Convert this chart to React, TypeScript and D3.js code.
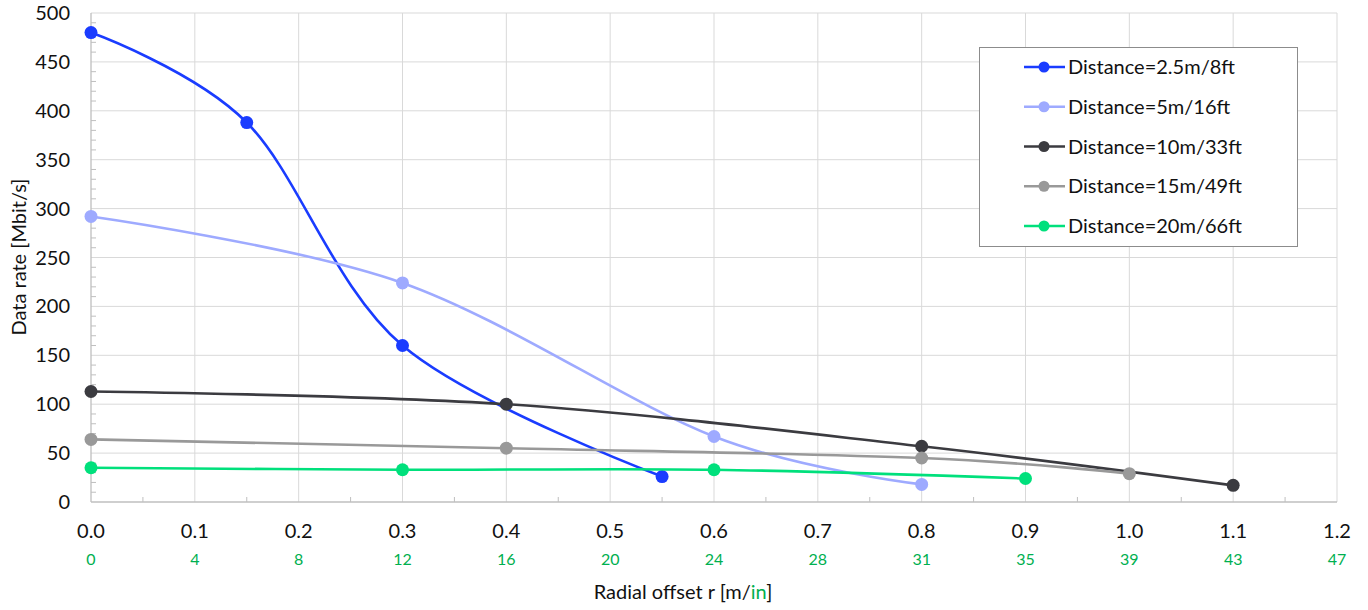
import React from 'react';
import * as d3 from 'd3';

// radial offset in metres, data rate in Mbit/s
const blueX = [0, 0.15, 0.3, 0.55];
const blueY = [480, 388, 160, 26];
const lightX = [0, 0.3, 0.6, 0.8];
const lightY = [292, 224, 67, 18];
const darkX = [0, 0.4, 0.8, 1.1];
const darkY = [113, 100, 57, 17];
const grayX = [0, 0.4, 0.8, 1.0];
const grayY = [64, 55, 45, 29];
const greenX = [0, 0.3, 0.6, 0.9];
const greenY = [35, 33, 33, 24];

const seriesNames = [
  'Distance=2.5m/8ft',
  'Distance=5m/16ft',
  'Distance=10m/33ft',
  'Distance=15m/49ft',
  'Distance=20m/66ft',
];
const seriesColors = ['#1a3cff', '#9eaaff', '#3b3b40', '#999999', '#00e07c'];

const xTicks = [0, 0.1, 0.2, 0.3, 0.4, 0.5, 0.6, 0.7, 0.8, 0.9, 1.0, 1.1, 1.2];
const inchLabels = ['0', '4', '8', '12', '16', '20', '24', '28', '31', '35', '39', '43', '47'];
const yTicks = [0, 50, 100, 150, 200, 250, 300, 350, 400, 450, 500];

const font = 'Lato, "Open Sans", sans-serif';

const App = () => {
  const ref = React.useRef<SVGSVGElement>(null);

  React.useEffect(() => {
    const width = 1368,
      height = 610;
    const left = 91,
      right = 1337,
      top = 13,
      bottom = 502;

    const svg = d3.select(ref.current);
    svg.selectAll('*').remove();
    svg.attr('width', width).attr('height', height);

    const x = d3.scaleLinear().domain([0, 1.2]).range([left, right]);
    const y = d3.scaleLinear().domain([0, 500]).range([bottom, top]);

    // gridlines
    svg.append('g')
      .selectAll('line')
      .data(xTicks.slice(1))
      .join('line')
      .attr('x1', d => x(d)).attr('x2', d => x(d))
      .attr('y1', top).attr('y2', bottom)
      .attr('stroke', '#d9d9d9').attr('stroke-width', 1);
    svg.append('g')
      .selectAll('line')
      .data(yTicks.slice(1))
      .join('line')
      .attr('x1', left).attr('x2', right)
      .attr('y1', d => y(d)).attr('y2', d => y(d))
      .attr('stroke', '#d9d9d9').attr('stroke-width', 1);

    // minor ticks
    svg.append('g')
      .selectAll('line')
      .data(d3.range(0, 500, 10).filter(v => v % 50 !== 0))
      .join('line')
      .attr('x1', left).attr('x2', left + 5)
      .attr('y1', d => y(d)).attr('y2', d => y(d))
      .attr('stroke', '#bfbfbf');
    svg.append('g')
      .selectAll('line')
      .data(d3.range(0, 12).map(i => i * 0.1 + 0.05))
      .join('line')
      .attr('x1', d => x(d)).attr('x2', d => x(d))
      .attr('y1', bottom).attr('y2', bottom - 5)
      .attr('stroke', '#bfbfbf');

    // axis lines
    svg.append('line')
      .attr('x1', left).attr('x2', left).attr('y1', top).attr('y2', bottom)
      .attr('stroke', '#bfbfbf').attr('stroke-width', 1.3);
    svg.append('line')
      .attr('x1', left).attr('x2', right).attr('y1', bottom).attr('y2', bottom)
      .attr('stroke', '#bfbfbf').attr('stroke-width', 1.3);

    // y tick labels
    svg.append('g')
      .selectAll('text')
      .data(yTicks)
      .join('text')
      .attr('x', 70)
      .attr('y', d => y(d) + 7)
      .attr('text-anchor', 'end')
      .style('font-family', font)
      .style('font-size', '20px')
      .attr('fill', '#111')
      .text(d => d);

    // x tick labels
    svg.append('g')
      .selectAll('text')
      .data(xTicks)
      .join('text')
      .attr('x', d => x(d))
      .attr('y', 538)
      .attr('text-anchor', 'middle')
      .style('font-family', font)
      .style('font-size', '20px')
      .attr('fill', '#111')
      .text(d => d.toFixed(1));

    svg.append('g')
      .selectAll('text')
      .data(inchLabels)
      .join('text')
      .attr('x', (d, i) => x(xTicks[i]))
      .attr('y', 565)
      .attr('text-anchor', 'middle')
      .style('font-family', font)
      .style('font-size', '16px')
      .attr('fill', '#00b050')
      .text(d => d);

    // axis titles
    const xt = svg.append('text')
      .attr('x', 683)
      .attr('y', 599)
      .attr('text-anchor', 'middle')
      .style('font-family', font)
      .style('font-size', '20px')
      .attr('fill', '#111');
    xt.append('tspan').text('Radial offset r [m/');
    xt.append('tspan').attr('fill', '#00b050').text('in');
    xt.append('tspan').text(']');

    svg.append('text')
      .attr('transform', `translate(26,257) rotate(-90)`)
      .attr('text-anchor', 'middle')
      .style('font-family', font)
      .style('font-size', '20px')
      .attr('fill', '#111')
      .text('Data rate [Mbit/s]');

    // series
    const allSeries = [
      [blueX, blueY],
      [lightX, lightY],
      [darkX, darkY],
      [grayX, grayY],
      [greenX, greenY],
    ];
    const line = d3.line<[number, number]>()
      .x(d => x(d[0]))
      .y(d => y(d[1]))
      .curve(d3.curveCardinal.tension(0));

    allSeries.forEach(([xs, ys], i) => {
      const pts: [number, number][] = xs.map((v, j) => [v, ys[j]]);
      const g = svg.append('g');
      g.append('path')
        .attr('d', line(pts))
        .attr('fill', 'none')
        .attr('stroke', seriesColors[i])
        .attr('stroke-width', 2.6);
      g.selectAll('circle')
        .data(pts)
        .join('circle')
        .attr('cx', d => x(d[0]))
        .attr('cy', d => y(d[1]))
        .attr('r', 6.5)
        .attr('fill', seriesColors[i]);
    });

    // legend
    const lg = svg.append('g');
    lg.append('rect')
      .attr('x', 979.5).attr('y', 47.5)
      .attr('width', 318).attr('height', 199)
      .attr('fill', 'white')
      .attr('stroke', '#8c8c8c');
    const rowY = d3.scaleLinear().domain([0, 4]).range([67, 226]);
    seriesNames.forEach((name, i) => {
      const ry = rowY(i);
      lg.append('line')
        .attr('x1', 1024).attr('x2', 1065).attr('y1', ry).attr('y2', ry)
        .attr('stroke', seriesColors[i]).attr('stroke-width', 2.6);
      lg.append('circle')
        .attr('cx', 1044).attr('cy', ry).attr('r', 5.5)
        .attr('fill', seriesColors[i]);
      lg.append('text')
        .attr('x', 1068).attr('y', ry + 7)
        .style('font-family', font)
        .style('font-size', '20px')
        .attr('fill', '#111')
        .text(name);
    });
  }, []);

  return <svg ref={ref} style={{ position: 'absolute', left: 0, top: 0 }} />;
};

export default App;
